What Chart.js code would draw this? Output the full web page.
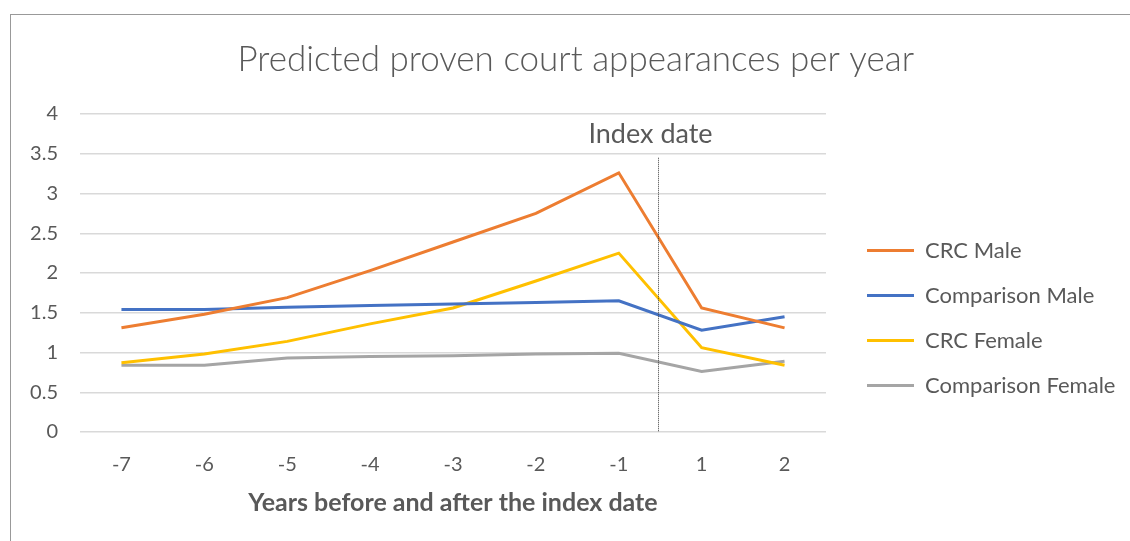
<!DOCTYPE html>
<html>
<head>
<meta charset="utf-8">
<script src="https://cdn.jsdelivr.net/npm/chart.js@4.4.0/dist/chart.umd.min.js"></script>
<style>
  html, body { margin: 0; padding: 0; background: #fff; }
  #frame { position: absolute; left: 10px; top: 14px; width: 1119px; height: 526px;
           border-top: 1px solid #999; border-left: 1px solid #999; }
  canvas { display: block; }
</style>
</head>
<body>
<div id="frame"><canvas id="chart" width="1119" height="526"></canvas></div>
<script>
// data
const years = ["-7", "-6", "-5", "-4", "-3", "-2", "-1", "1", "2"];
const crcMale = [1.31, 1.48, 1.69, 2.03, 2.39, 2.75, 3.26, 1.56, 1.31];
const comparisonMale = [1.54, 1.54, 1.57, 1.59, 1.61, 1.63, 1.65, 1.28, 1.45];
const crcFemale = [0.87, 0.98, 1.14, 1.36, 1.56, 1.90, 2.25, 1.06, 0.84];
const comparisonFemale = [0.84, 0.84, 0.93, 0.95, 0.96, 0.98, 0.99, 0.76, 0.89];
const seriesNames = ["CRC Male", "Comparison Male", "CRC Female", "Comparison Female"];
const seriesColors = ["#ED7D31", "#4472C4", "#FFC000", "#A5A5A5"];

const FONT = 'Lato, "Open Sans", sans-serif';
const TEXT = "#595959";

// legend sizing so that it sits where Excel put it
const FS = 22, LP = 23, BOXW = 47;
const mctx = document.createElement("canvas").getContext("2d");
mctx.font = FS + "px " + FONT;
const longest = Math.max(...seriesNames.map(n => mctx.measureText(n).width));
const legendW = LP + BOXW + FS / 2 + longest + 10;
const legendLeft = 856 - LP;
const padRight = 1119 - (legendLeft + legendW);
const padLeft = Math.max(0, Math.min(15, padRight + 13));

const indexLine = {
  id: "indexLine",
  afterDatasetsDraw(chart) {
    const { ctx, chartArea, scales: { x, y } } = chart;
    const px = Math.round((x.getPixelForValue(6) + x.getPixelForValue(7)) / 2) - 1.5;
    ctx.save();
    ctx.strokeStyle = "#404040";
    ctx.lineWidth = 1;
    ctx.setLineDash([1, 1]);
    ctx.beginPath();
    ctx.moveTo(px, y.getPixelForValue(3.5) + 4);
    ctx.lineTo(px, chartArea.bottom);
    ctx.stroke();
    ctx.setLineDash([]);
    ctx.font = "27px " + FONT;
    ctx.fillStyle = TEXT;
    ctx.textAlign = "center";
    ctx.textBaseline = "middle";
    ctx.fillText("Index date", px - 8, y.getPixelForValue(3.75));
    ctx.restore();
  },
};

const allSeries = [crcMale, comparisonMale, crcFemale, comparisonFemale];

new Chart(document.getElementById("chart"), {
  type: "line",
  data: {
    labels: years,
    datasets: allSeries.map((d, i) => ({
      label: seriesNames[i],
      data: d,
      borderColor: seriesColors[i],
      backgroundColor: seriesColors[i],
      borderWidth: 3,
      pointRadius: 0,
      tension: 0,
    })),
  },
  options: {
    responsive: false,
    animation: false,
    layout: { padding: { left: padLeft, right: padRight, top: 0, bottom: 0 } },
    plugins: {
      title: {
        display: true,
        text: "Predicted proven court appearances per year",
        color: TEXT,
        font: { family: FONT, size: 35, weight: 300 },
        padding: { top: 24, bottom: 33 },
      },
      legend: {
        position: "right",
        maxWidth: 400,
        title: { display: true, text: " ", font: { size: 1 }, padding: { top: 0, bottom: 78.8 } },
        labels: {
          color: TEXT,
          font: { family: FONT, size: FS },
          boxWidth: BOXW,
          boxHeight: 3,
          padding: LP,
          generateLabels: (chart) =>
            Chart.defaults.plugins.legend.labels.generateLabels(chart).map(l => ({ ...l, lineWidth: 0 })),
        },
      },
      tooltip: { enabled: false },
    },
    scales: {
      x: {
        offset: true,
        grid: { display: false, drawTicks: false },
        border: { display: false },
        ticks: { color: TEXT, font: { family: FONT, size: 20 }, padding: 21 },
        title: {
          display: true,
          text: "Years before and after the index date",
          color: TEXT,
          font: { family: FONT, size: 25, weight: "bold" },
          padding: { top: -10, bottom: 23 },
        },
      },
      y: {
        min: 0,
        max: 4,
        grid: { color: "#d9d9d9", lineWidth: 1.5, drawTicks: false },
        border: { display: false },
        ticks: {
          stepSize: 0.5,
          color: TEXT,
          font: { family: FONT, size: 20 },
          padding: 22,
          callback: (v) => String(v),
        },
        afterFit(s) { s.width = 69 - padLeft; },
      },
      gap: {
        type: "linear",
        position: "right",
        grid: { display: false, drawTicks: false },
        border: { display: false },
        ticks: { display: false },
        afterFit(s) { s.width = legendLeft - 815; },
      },
    },
  },
  plugins: [indexLine],
});
</script>
</body>
</html>
